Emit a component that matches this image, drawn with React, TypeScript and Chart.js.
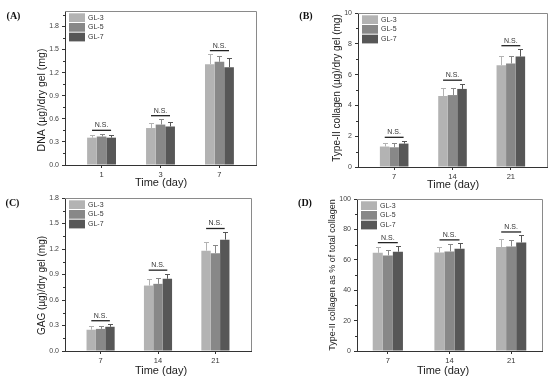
import React, { useEffect, useRef } from 'react';
import { Chart, registerables } from 'chart.js';

Chart.register(...registerables);

// ---------- data ----------
const SERIES = ['GL-3', 'GL-5', 'GL-7'];
const BAR_COLORS = ['#b3b3b3', '#888888', '#575757'];

const DAYS_A = ['1', '3', '7'];
const DAYS_LATE = ['7', '14', '21'];

// (A) DNA (µg)/dry gel (mg)
const DNA_GL3 = [0.355, 0.48, 1.31];
const DNA_GL5 = [0.37, 0.525, 1.34];
const DNA_GL7 = [0.355, 0.5, 1.27];
const DNA_ERR_GL3 = [0.035, 0.065, 0.13];
const DNA_ERR_GL5 = [0.035, 0.07, 0.075];
const DNA_ERR_GL7 = [0.03, 0.06, 0.12];

// (B) Type-II collagen (µg)/dry gel (mg)
const COL_GL3 = [1.33, 4.61, 6.61];
const COL_GL5 = [1.28, 4.67, 6.72];
const COL_GL7 = [1.52, 5.07, 7.17];
const COL_ERR_GL3 = [0.24, 0.5, 0.6];
const COL_ERR_GL5 = [0.28, 0.45, 0.5];
const COL_ERR_GL7 = [0.18, 0.34, 0.48];

// (C) GAG (µg)/dry gel (mg)
const GAG_GL3 = [0.25, 0.77, 1.18];
const GAG_GL5 = [0.26, 0.79, 1.15];
const GAG_GL7 = [0.285, 0.85, 1.31];
const GAG_ERR_GL3 = [0.04, 0.08, 0.1];
const GAG_ERR_GL5 = [0.035, 0.07, 0.1];
const GAG_ERR_GL7 = [0.03, 0.06, 0.09];

// (D) Type-II collagen as % of total collagen
const PCT_GL3 = [64.6, 64.8, 68.4];
const PCT_GL5 = [62.9, 65.5, 68.8];
const PCT_GL7 = [65.3, 67.3, 71.4];
const PCT_ERR_GL3 = [3.5, 3.3, 5.2];
const PCT_ERR_GL5 = [3.3, 5.0, 4.4];
const PCT_ERR_GL7 = [3.7, 3.5, 4.6];

const SIG_LABEL = 'N.S.';
const X_TITLE = 'Time (day)';

// ---------- layout ----------
const SANS = '"Liberation Sans", Arial, sans-serif';
const SERIF = '"Liberation Serif", "Times New Roman", serif';

type Panel = {
  letter: string;
  cats: string[];
  values: number[][];
  errors: number[][];
  yMax: number;
  yStep: number;
  yTickMax: number;
  decimals: number;
  yTitle: string;
  yTitleSize: number;
  box: { left: number; top: number; w: number; h: number };
  plot: { l: number; r: number; t: number; b: number };
  xEdge: number;
  yTitlePos: [number, number];
  xTitlePos: [number, number];
  letterPos: [number, number];
};

const PANELS: Panel[] = [
  {
    letter: '(A)',
    cats: DAYS_A,
    values: [DNA_GL3, DNA_GL5, DNA_GL7],
    errors: [DNA_ERR_GL3, DNA_ERR_GL5, DNA_ERR_GL7],
    yMax: 2.0,
    yStep: 0.3,
    yTickMax: 1.8,
    decimals: 1,
    yTitle: 'DNA (µg)/dry gel (mg)',
    yTitleSize: 10.5,
    box: { left: 0, top: 0, w: 275, h: 192 },
    plot: { l: 65, r: 256, t: 11, b: 165 },
    xEdge: 0.62,
    yTitlePos: [42, 100],
    xTitlePos: [161, 183],
    letterPos: [13.5, 16],
  },
  {
    letter: '(B)',
    cats: DAYS_LATE,
    values: [COL_GL3, COL_GL5, COL_GL7],
    errors: [COL_ERR_GL3, COL_ERR_GL5, COL_ERR_GL7],
    yMax: 10,
    yStep: 2,
    yTickMax: 10,
    decimals: 0,
    yTitle: 'Type-II collagen (µg)/dry gel (mg)',
    yTitleSize: 10,
    box: { left: 275, top: 0, w: 275, h: 192 },
    plot: { l: 83, r: 272, t: 13, b: 167 },
    xEdge: 0.62,
    yTitlePos: [62, 88],
    xTitlePos: [178, 185],
    letterPos: [31, 16],
  },
  {
    letter: '(C)',
    cats: DAYS_LATE,
    values: [GAG_GL3, GAG_GL5, GAG_GL7],
    errors: [GAG_ERR_GL3, GAG_ERR_GL5, GAG_ERR_GL7],
    yMax: 1.8,
    yStep: 0.3,
    yTickMax: 1.8,
    decimals: 1,
    yTitle: 'GAG (µg)/dry gel (mg)',
    yTitleSize: 10,
    box: { left: 0, top: 188, w: 275, h: 190 },
    plot: { l: 65, r: 251, t: 10, b: 163 },
    xEdge: 0.62,
    yTitlePos: [42, 97.5],
    xTitlePos: [161, 183],
    letterPos: [12.5, 15],
  },
  {
    letter: '(D)',
    cats: DAYS_LATE,
    values: [PCT_GL3, PCT_GL5, PCT_GL7],
    errors: [PCT_ERR_GL3, PCT_ERR_GL5, PCT_ERR_GL7],
    yMax: 100,
    yStep: 20,
    yTickMax: 100,
    decimals: 0,
    yTitle: 'Type-II collagen as % of total collagen',
    yTitleSize: 9,
    box: { left: 275, top: 188, w: 275, h: 190 },
    plot: { l: 82, r: 267, t: 11, b: 163 },
    xEdge: 0.5,
    yTitlePos: [58, 87],
    xTitlePos: [168, 183],
    letterPos: [30, 15],
  },
];

function makeDecor(p: Panel) {
  return {
    id: 'decor' + p.letter,
    afterDatasetsDraw(chart: any) {
      const { ctx, chartArea: ca, scales } = chart;
      const xs = scales.x;
      const ys = scales.y;
      ctx.save();

      // frame (top & right)
      ctx.strokeStyle = '#8a8a8a';
      ctx.lineWidth = 1;
      ctx.beginPath();
      ctx.moveTo(ca.left, Math.round(ca.top) + 0.5);
      ctx.lineTo(Math.round(ca.right) + 0.5, Math.round(ca.top) + 0.5);
      ctx.lineTo(Math.round(ca.right) + 0.5, ca.bottom);
      ctx.stroke();

      // minor y ticks
      ctx.strokeStyle = '#333';
      ctx.beginPath();
      for (let k = 0; (k + 0.5) * p.yStep <= p.yMax + 1e-9; k++) {
        const yy = Math.round(ys.getPixelForValue((k + 0.5) * p.yStep)) + 0.5;
        ctx.moveTo(ca.left, yy);
        ctx.lineTo(ca.left - 2, yy);
      }
      ctx.stroke();

      // error bars (upper only)
      chart.data.datasets.forEach((ds: any, di: number) => {
        const meta = chart.getDatasetMeta(di);
        ctx.strokeStyle = ds.backgroundColor;
        ctx.lineWidth = 1;
        meta.data.forEach((bar: any, i: number) => {
          const v = p.values[di][i];
          const e = p.errors[di][i];
          const xc = Math.round(bar.x) + 0.5;
          const y0 = ys.getPixelForValue(v);
          const y1 = Math.round(ys.getPixelForValue(v + e)) + 0.5;
          ctx.beginPath();
          ctx.moveTo(xc, y0);
          ctx.lineTo(xc, y1);
          ctx.moveTo(xc - 2.5, y1);
          ctx.lineTo(xc + 2.5, y1);
          ctx.stroke();
        });
      });

      // N.S. annotations
      p.cats.forEach((_, i) => {
        let top = 0;
        p.values.forEach((vals, k) => {
          top = Math.max(top, vals[i] + p.errors[k][i]);
        });
        const yTop = ys.getPixelForValue(top);
        const xc = xs.getPixelForValue(i);
        const b0 = chart.getDatasetMeta(0).data[i];
        const groupW = b0.width * 3;
        const half = groupW * 0.33;
        const ly = yTop - 3.5;
        ctx.strokeStyle = '#222';
        ctx.lineWidth = 1.3;
        ctx.beginPath();
        ctx.moveTo(xc - half, ly);
        ctx.lineTo(xc + half, ly);
        ctx.stroke();
        ctx.fillStyle = '#333';
        ctx.font = `7px ${SANS}`;
        ctx.textAlign = 'center';
        ctx.textBaseline = 'bottom';
        ctx.fillText(SIG_LABEL, xc, ly - 1.5);
      });

      // legend
      const lx = ca.left + 4;
      const ly0 = ca.top + 2.3;
      chart.data.datasets.forEach((ds: any, di: number) => {
        const yy = ly0 + di * 9.7;
        ctx.fillStyle = ds.backgroundColor;
        ctx.fillRect(lx, yy, 16, 8.7);
        ctx.fillStyle = '#333';
        ctx.font = `7px ${SANS}`;
        ctx.textAlign = 'left';
        ctx.textBaseline = 'middle';
        ctx.fillText(ds.label, lx + 19, yy + 4.5);
      });

      // axis titles
      ctx.fillStyle = '#222';
      ctx.textAlign = 'center';
      ctx.textBaseline = 'middle';
      ctx.font = `11px ${SANS}`;
      ctx.fillText(X_TITLE, p.xTitlePos[0], p.xTitlePos[1]);
      ctx.save();
      ctx.translate(p.yTitlePos[0], p.yTitlePos[1]);
      ctx.rotate(-Math.PI / 2);
      ctx.font = `${p.yTitleSize}px ${SANS}`;
      ctx.fillText(p.yTitle, 0, 0);
      ctx.restore();

      // panel letter
      ctx.fillStyle = '#111';
      ctx.font = `bold 10px ${SERIF}`;
      ctx.fillText(p.letter, p.letterPos[0], p.letterPos[1]);

      ctx.restore();
    },
  };
}

function PanelChart({ p }: { p: Panel }) {
  const ref = useRef<HTMLCanvasElement>(null);
  useEffect(() => {
    const canvas = ref.current!;
    const chart = new Chart(canvas, {
      type: 'bar',
      data: {
        datasets: SERIES.map((name, k) => ({
          label: name,
          data: p.values[k].map((v, i) => ({ x: i, y: v })),
          backgroundColor: BAR_COLORS[k],
          borderWidth: 0,
          barPercentage: 1,
          categoryPercentage: 0.49,
        })),
      } as any,
      options: {
        responsive: false,
        maintainAspectRatio: false,
        animation: false,
        events: [],
        layout: {
          padding: { top: p.plot.t, right: p.box.w - p.plot.r, left: 0, bottom: 0 },
        },
        plugins: {
          legend: { display: false },
          tooltip: { enabled: false },
          title: { display: false },
        },
        scales: {
          x: {
            type: 'linear',
            offset: false,
            min: -p.xEdge,
            max: p.cats.length - 1 + p.xEdge,
            afterBuildTicks: (s: any) => {
              s.ticks = p.cats.map((_, i) => ({ value: i }));
            },
            afterFit: (s: any) => {
              s.height = p.box.h - p.plot.b;
            },
            ticks: {
              autoSkip: false,
              maxRotation: 0,
              padding: 2,
              color: '#333',
              font: { family: SANS, size: 7.5 },
              callback: (_v: any, i: number) => p.cats[i],
            },
            grid: {
              display: true,
              drawOnChartArea: false,
              drawTicks: true,
              tickLength: 3,
              color: '#333',
              offset: false,
            },
            border: { display: true, color: '#333', width: 1 },
          },
          y: {
            type: 'linear',
            min: 0,
            max: p.yMax,
            afterBuildTicks: (s: any) => {
              const t: any[] = [];
              for (let k = 0; k * p.yStep <= p.yTickMax + 1e-9; k++) t.push({ value: k * p.yStep });
              s.ticks = t;
            },
            afterFit: (s: any) => {
              s.width = p.plot.l;
            },
            ticks: {
              autoSkip: false,
              padding: 3,
              color: '#444',
              font: { family: SANS, size: 7 },
              callback: (v: any) => Number(v).toFixed(p.decimals),
            },
            grid: {
              display: true,
              drawOnChartArea: false,
              drawTicks: true,
              tickLength: 3,
              color: '#333',
            },
            border: { display: true, color: '#333', width: 1 },
          },
        },
      } as any,
      plugins: [makeDecor(p)],
    });
    return () => chart.destroy();
  }, [p]);
  return (
    <canvas
      ref={ref}
      width={p.box.w}
      height={p.box.h}
      style={{
        position: 'absolute',
        left: p.box.left,
        top: p.box.top,
        width: p.box.w,
        height: p.box.h,
      }}
    />
  );
}

export default function App() {
  return (
    <div
      style={{
        position: 'absolute',
        left: 0,
        top: 0,
        width: 550,
        height: 378,
        background: '#ffffff',
        overflow: 'hidden',
      }}
    >
      {PANELS.map((p) => (
        <PanelChart key={p.letter} p={p} />
      ))}
    </div>
  );
}
